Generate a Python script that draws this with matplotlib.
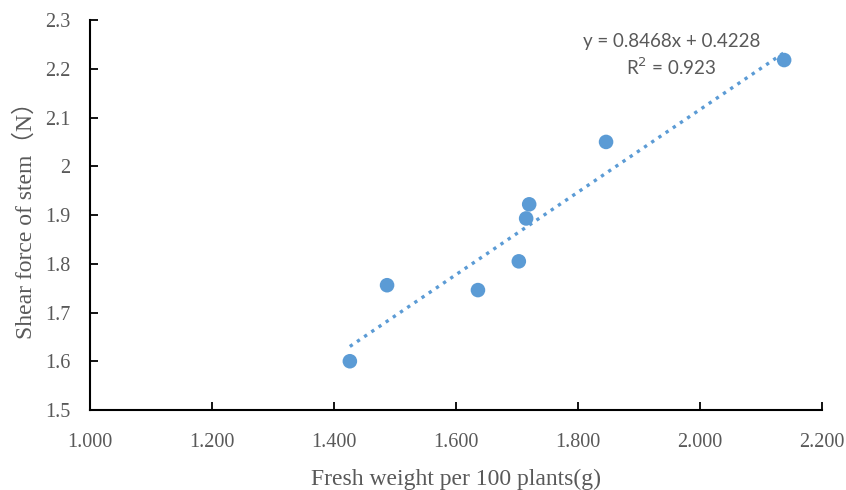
import numpy as np
import matplotlib
matplotlib.use("Agg")
import matplotlib.pyplot as plt

fresh_weight = [1.426, 1.487, 1.636, 1.703, 1.715, 1.720, 1.846, 2.138]
shear_force = [1.600, 1.756, 1.746, 1.805, 1.893, 1.922, 2.050, 2.218]
x_ticks = [1.0, 1.2, 1.4, 1.6, 1.8, 2.0, 2.2]
y_ticks = [1.5, 1.6, 1.7, 1.8, 1.9, 2.0, 2.1, 2.2, 2.3]
slope, intercept = 0.8468, 0.4228
r2 = 0.923

blue = "#5B9BD5"
grey = "#595959"
serif = ["Liberation Serif", "Noto Sans CJK SC"]

fig = plt.figure(figsize=(8.46, 4.90), dpi=100)
ax = fig.add_axes([0.1064, 0.1633, 0.8652, 0.7957])

ax.scatter(fresh_weight, shear_force, s=110, color=blue, zorder=3, edgecolors="none")
xs = np.array([min(fresh_weight), max(fresh_weight)])
ax.plot(xs, slope * xs + intercept, linestyle=(0, (1, 1.6)), color=blue, linewidth=2.4, zorder=2)

ax.set_xlim(1.0, 2.2)
ax.set_ylim(1.5, 2.3)
ax.set_xticks(x_ticks)
ax.set_xticklabels([f"{v:.3f}" for v in x_ticks], family=serif, color=grey, fontsize=14.5)
ax.set_yticks(y_ticks)
ax.set_yticklabels([f"{v:g}" for v in y_ticks], family=serif, color=grey, fontsize=14.5)
ax.tick_params(direction="in", length=6, width=1.3, color="black")
ax.tick_params(axis="x", pad=16.5)
ax.tick_params(axis="y", pad=14)
for s in ["top", "right"]:
    ax.spines[s].set_visible(False)
for s in ["left", "bottom"]:
    ax.spines[s].set_linewidth(1.5)

ax.set_xlabel("Fresh weight per 100 plants(g)", family=serif, color=grey, fontsize=17, labelpad=12)
ax.set_ylabel("Shear force of stem（N）", family=serif, color=grey, fontsize=17, labelpad=6)

ax.text(0.794, 0.944, f"y = {slope:.4f}x + {intercept:.4f}", transform=ax.transAxes,
        ha="center", va="center", fontsize=13.5, color=grey, family=["Lato", "DejaVu Sans"])
ax.text(0.794, 0.879, f"R$^2$ = {r2:.3f}", transform=ax.transAxes,
        ha="center", va="center", fontsize=13.5, color=grey, family=["Lato", "DejaVu Sans"])

fig.savefig("out.png", dpi=100)
